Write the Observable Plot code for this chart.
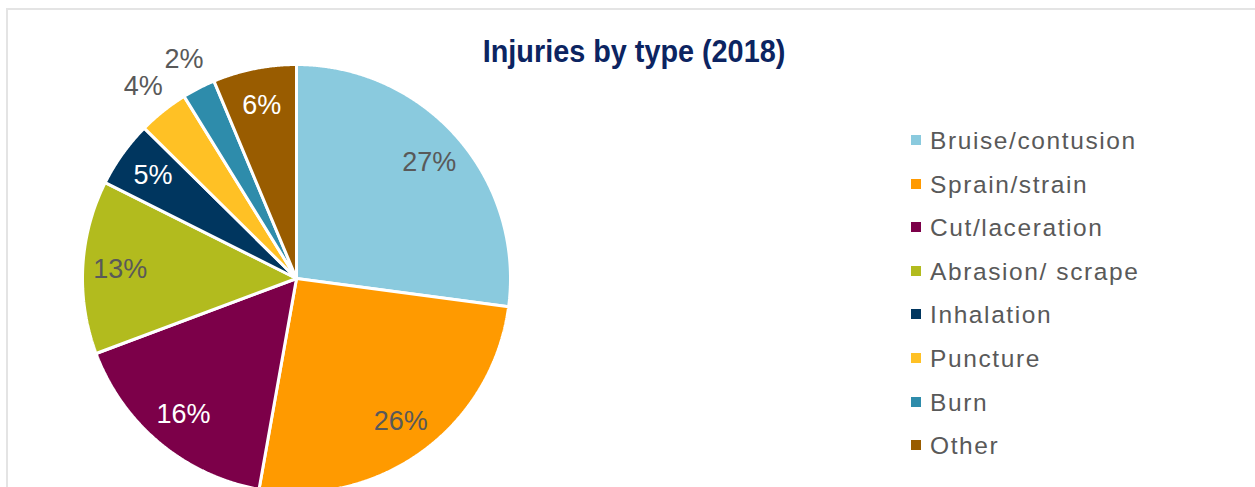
<!DOCTYPE html>
<html><head><meta charset="utf-8">
<script src="https://cdn.jsdelivr.net/npm/d3@7"></script>
<script src="https://cdn.jsdelivr.net/npm/@observablehq/plot@0.6"></script>
<style>
html,body{margin:0;padding:0;background:#fff;overflow:hidden;}
#wrap{position:relative;width:1255px;height:487px;overflow:hidden;background:#fff;}
#frame{position:absolute;left:6px;top:8px;width:1400px;height:700px;border-left:2px solid #e4e4e4;border-top:2px solid #e4e4e4;}
#title{position:absolute;left:334px;width:600px;top:35px;text-align:center;font-family:"Liberation Sans",Arial,sans-serif;font-weight:bold;font-size:32px;line-height:32px;color:#0c2461;transform:scaleX(0.9);transform-origin:300px 0;}
.row{position:absolute;left:911px;height:24px;}
.sw{position:absolute;left:0;top:6px;width:10px;height:10px;}
.lt{position:absolute;left:19px;top:0;white-space:nowrap;font-family:"Liberation Sans",Arial,sans-serif;font-size:24.5px;line-height:24px;letter-spacing:1.6px;color:#595959;}
#chart{position:absolute;left:0;top:0;}
</style></head><body>
<div id="wrap"><div id="frame"></div><div id="chart"></div><div id="title">Injuries by type (2018)</div><div id="legend"></div></div>
<script>
const categories = ["Bruise/contusion", "Sprain/strain", "Cut/laceration", "Abrasion/ scrape", "Inhalation", "Puncture", "Burn", "Other"];
const shares = [27.1, 25.7, 16.5, 13.1, 5.0, 3.8, 2.5, 6.3];
const percentLabels = ["27%", "26%", "16%", "13%", "5%", "4%", "2%", "6%"];
const colors = ["#8acade", "#ff9a00", "#7c0049", "#b2bb1e", "#00365f", "#ffc125", "#2e8cab", "#995c00"];
const whiteLabelCats = ["Cut/laceration", "Inhalation", "Other"];

const rows = categories.map((c, i) => ({key: c, share: shares[i], label: percentLabels[i]}));
const arcs = d3.pie().sort(null).value(d => d.share)(rows);

const pts = [];
arcs.forEach(a => {
  pts.push({key: a.data.key, x: 0, y: 0});
  const n = Math.max(2, Math.ceil((a.endAngle - a.startAngle) / 0.005));
  for (let k = 0; k <= n; k++) {
    const t = a.startAngle + (a.endAngle - a.startAngle) * k / n;
    pts.push({key: a.data.key, x: Math.sin(t), y: Math.cos(t)});
  }
});

const labels = arcs.map(a => {
  const m = (a.startAngle + a.endAngle) / 2;
  const outside = a.data.share < 4.5;
  const r = outside ? 1.15 : 0.825;
  return {key: a.data.key, label: a.data.label, x: Math.sin(m) * r, y: Math.cos(m) * r,
          white: !outside && whiteLabelCats.includes(a.data.key)};
});

const cx = 296, cy = 278, R = 214;
const chart = Plot.plot({
  width: 1255, height: 487, margin: 0,
  style: "background: transparent;",
  x: {domain: [-1, 1], range: [cx - R, cx + R], axis: null},
  y: {domain: [-1, 1], range: [cy + R, cy - R], axis: null},
  color: {domain: categories, range: colors},
  marks: [
    Plot.line(pts, {x: "x", y: "y", z: "key", fill: "key", stroke: "white", strokeWidth: 3, curve: "linear-closed", strokeLinejoin: "miter"}),
    Plot.text(labels.filter(d => !d.white), {x: "x", y: "y", text: "label", fill: "#595959", fontSize: 27, fontFamily: "Liberation Sans, Arial, sans-serif"}),
    Plot.text(labels.filter(d => d.white), {x: "x", y: "y", text: "label", fill: "white", fontSize: 27, fontFamily: "Liberation Sans, Arial, sans-serif"})
  ]
});
document.getElementById("chart").appendChild(chart);

const legend = document.getElementById("legend");
categories.forEach((c, i) => {
  const row = document.createElement("div");
  row.className = "row";
  row.style.top = (129 + i * 43.6) + "px";
  const sw = document.createElement("div");
  sw.className = "sw"; sw.style.background = colors[i];
  const lt = document.createElement("div");
  lt.className = "lt"; lt.textContent = c;
  row.appendChild(sw); row.appendChild(lt);
  legend.appendChild(row);
});
</script>
</body></html>
